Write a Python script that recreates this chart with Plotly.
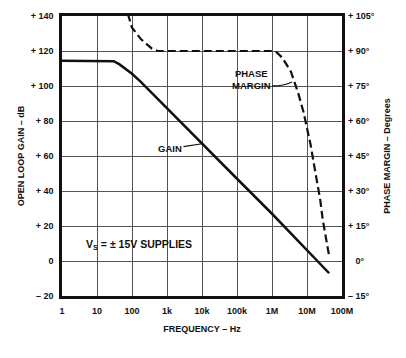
import plotly.graph_objects as go

# ---- data ----
gain_freq = [1, 10, 30, 43, 70, 100, 170, 300, 1e3, 1e4, 1e5, 1e6, 1e7, 4.3e7]
gain_db = [114.5, 114.5, 114.2, 112.5, 109.5, 107, 102.8, 97.8, 87.2, 67, 47, 27, 6.5, -7]

phase_freq = [76, 100, 182, 372, 550, 1e3, 1e4, 1e5, 1.07e6, 1.4e6, 2e6, 3.5e6, 5.6e6,
              7.9e6, 1.26e7, 1.6e7, 2.0e7, 2.4e7, 2.8e7, 3.4e7, 4.3e7]
phase_deg = [106, 100, 95, 91, 90, 90, 90, 90, 90, 89.3, 87, 81, 72,
             64, 50, 41, 33, 26, 18, 10, 2]

x_tickvals = [1, 10, 100, 1e3, 1e4, 1e5, 1e6, 1e7, 1e8]
x_ticktext = ["1", "10", "100", "1k", "10k", "100k", "1M", "10M", "100M"]
y_tickvals = [140, 120, 100, 80, 60, 40, 20, 0, -20]
y_ticktext = ["+ 140", "+ 120", "+ 100", "+ 80", "+ 60", "+ 40", "+ 20", "0", "\u2013 20"]
y2_tickvals = [105, 90, 75, 60, 45, 30, 15, 0, -15]
y2_ticktext = ["+ 105\u00b0", "+ 90\u00b0", "+ 75\u00b0", "+ 60\u00b0", "+ 45\u00b0",
               "+ 30\u00b0", "+ 15\u00b0", "\u00a0\u00a0\u00a00\u00b0", "\u2013 15\u00b0"]

FONT = "Liberation Sans, Arial, sans-serif"
tickfont = dict(family=FONT, size=9, color="#111", weight="bold")

fig = go.Figure()
fig.add_trace(go.Scatter(x=gain_freq, y=gain_db, mode="lines",
                         line=dict(color="#111", width=2.5),
                         showlegend=False, hoverinfo="skip"))
fig.add_trace(go.Scatter(x=phase_freq, y=phase_deg, mode="lines", yaxis="y2",
                         line=dict(color="#111", width=2.2, dash="8px,4px"),
                         showlegend=False, hoverinfo="skip"))

fig.update_layout(
    width=406, height=358,
    margin=dict(l=62, r=64, t=16, b=62),
    paper_bgcolor="white", plot_bgcolor="white",
    font=dict(family=FONT, size=9, color="#111"),
    xaxis=dict(type="log", range=[0, 8], tickvals=x_tickvals, ticktext=x_ticktext,
               showgrid=True, gridcolor="#555", gridwidth=1, zeroline=False,
               showline=True, linecolor="#111", linewidth=2.5, mirror=True,
               ticks="", tickfont=tickfont, ticklabelstandoff=4,
               title=dict(text="FREQUENCY \u2013 Hz", font=dict(family=FONT, size=9, weight="bold"),
                          standoff=12)),
    yaxis=dict(range=[-20, 140], tickvals=y_tickvals, ticktext=y_ticktext,
               showgrid=True, gridcolor="#555", gridwidth=1, zeroline=False,
               showline=True, linecolor="#111", linewidth=2.5, mirror=True,
               ticks="", tickfont=tickfont, ticklabelstandoff=4,
               title=dict(text="OPEN LOOP GAIN \u2013 dB", font=dict(family=FONT, size=9, weight="bold"),
                          standoff=5)),
    yaxis2=dict(range=[-15, 105], tickvals=y2_tickvals, ticktext=y2_ticktext,
                overlaying="y", side="right", showgrid=False, zeroline=False,
                ticks="", tickfont=tickfont, ticklabelstandoff=5,
                title=dict(text="PHASE MARGIN \u2013 Degrees", font=dict(family=FONT, size=9, weight="bold"),
                           standoff=9)),
)

annot_font = dict(family=FONT, size=9.5, color="#111", weight="bold")
fig.add_annotation(x=4, y=67, xref="x", yref="y", text="GAIN", font=annot_font,
                   showarrow=True, arrowhead=0, arrowwidth=1.2, arrowcolor="#111",
                   ax=-32, ay=5, standoff=0)
fig.add_annotation(xref="paper", yref="paper", x=(251 - 62) / 280, y=(296 - 79) / 280,
                   xanchor="center", yanchor="middle",
                   text="PHASE<br>MARGIN", font=annot_font, showarrow=False)
# leader line from the PHASE MARGIN label to the dashed curve
fig.add_shape(type="path", xref="paper", yref="paper",
              path="M {:.4f},{:.4f} Q {:.4f},{:.4f} {:.4f},{:.4f}".format(
                  (272 - 62) / 280, (296 - 86) / 280,
                  (284 - 62) / 280, (296 - 86) / 280,
                  (292 - 62) / 280, (296 - 82) / 280),
              line=dict(color="#111", width=1.3))
fig.add_annotation(xref="paper", yref="paper", x=(139 - 62) / 280, y=(296 - 245) / 280,
                   xanchor="center", yanchor="middle",
                   text="V<sub>S</sub> = \u00b1 15V SUPPLIES",
                   font=dict(family=FONT, size=10.5, color="#111", weight="bold"), showarrow=False)

fig.write_html("out.html", config={"displayModeBar": False},
               post_script="document.body.style.margin='0';")
